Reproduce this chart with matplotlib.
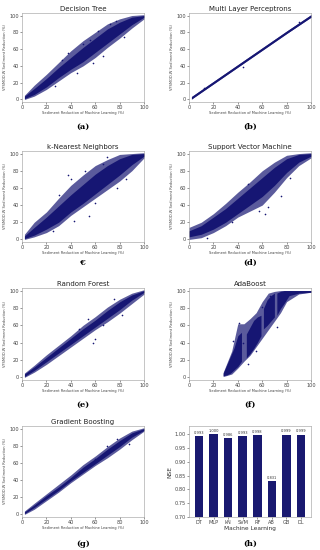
import matplotlib
matplotlib.use("Agg")
import matplotlib.pyplot as plt

# scatter panels: band edges (outer cloud and dense core)
grid_x = [2, 10, 20, 30, 40, 50, 60, 70, 80, 90, 100]

dt_out_lo = [0, 4, 12, 22, 32, 40, 50, 62, 73, 85, 96]
dt_out_hi = [5, 17, 30, 44, 58, 70, 80, 90, 96, 100, 101]
dt_core_lo = [1, 6, 15, 26, 36, 45, 56, 67, 78, 89, 98]
dt_core_hi = [4, 13, 25, 38, 50, 62, 73, 84, 92, 98, 100]
dt_pts_x = [38, 56, 62, 33, 45, 66, 72, 84, 50, 27, 77, 58]
dt_pts_y = [55, 71, 82, 47, 31, 52, 90, 74, 66, 16, 94, 44]

mlp_x = [2, 20, 40, 60, 80, 100]
mlp_lo = [0.5, 18.5, 38.5, 58.5, 78.5, 98]
mlp_hi = [3.5, 21.5, 41.5, 61.5, 81.5, 101]
mlp_pts_x = [44, 90, 12]
mlp_pts_y = [39, 92, 14]

knn_out_lo = [0, 3, 8, 16, 28, 38, 48, 58, 68, 80, 95]
knn_out_hi = [6, 20, 32, 48, 63, 75, 86, 93, 99, 100, 101]
knn_core_lo = [1, 5, 12, 20, 32, 42, 53, 64, 75, 87, 97]
knn_core_hi = [4, 14, 26, 39, 52, 64, 76, 86, 94, 99, 100]
knn_pts_x = [38, 40, 52, 55, 66, 30, 43, 60, 78, 85, 25, 70]
knn_pts_y = [75, 70, 80, 27, 88, 52, 22, 43, 60, 70, 10, 96]

svm_x = [0, 10, 20, 30, 40, 50, 60, 70, 80, 90, 100]
svm_out_lo = [0, 2, 8, 16, 26, 33, 40, 55, 72, 86, 95]
svm_out_hi = [14, 20, 30, 42, 55, 67, 80, 90, 98, 100, 101]
svm_core_lo = [3, 6, 12, 20, 30, 40, 50, 63, 78, 90, 97]
svm_core_hi = [10, 16, 26, 36, 48, 60, 72, 84, 94, 99, 100]
svm_pts_x = [57, 62, 65, 48, 15, 75, 83, 35]
svm_pts_y = [33, 30, 38, 64, 2, 50, 72, 20]

rf_out_lo = [0, 6, 15, 25, 35, 45, 55, 64, 74, 85, 96]
rf_out_hi = [5, 14, 26, 37, 48, 60, 70, 81, 90, 97, 101]
rf_core_lo = [1, 8, 18, 28, 38, 48, 58, 68, 78, 89, 98]
rf_core_hi = [4, 12, 23, 34, 45, 56, 66, 77, 87, 95, 100]
rf_pts_x = [60, 54, 58, 75, 82, 66, 47]
rf_pts_y = [44, 67, 40, 90, 72, 60, 56]

ab_out_x = [28, 35, 40, 45, 50, 55, 60, 65, 70, 75, 80, 90, 100]
ab_out_lo = [0, 3, 10, 18, 25, 35, 45, 55, 65, 75, 88, 97, 99]
ab_out_hi = [5, 30, 62, 62, 68, 75, 88, 98, 100, 101, 101, 101, 101]
ab_c1_x = [28, 31, 34, 37, 40, 43]
ab_c1_lo = [1, 2, 4, 8, 12, 18]
ab_c1_hi = [4, 14, 24, 34, 48, 52]
ab_c2_x = [47, 50, 53, 56, 59]
ab_c2_lo = [22, 27, 33, 40, 48]
ab_c2_hi = [50, 58, 66, 70, 72]
ab_c3_x = [61, 64, 67, 70]
ab_c3_lo = [56, 60, 65, 70]
ab_c3_hi = [80, 90, 95, 98]
ab_c4_x = [72, 75, 78, 82, 90, 100]
ab_c4_lo = [72, 80, 86, 95, 98, 99]
ab_c4_hi = [98, 100, 101, 101, 101, 101]
ab_pts_x = [41, 44, 55, 66, 72, 36, 60, 48]
ab_pts_y = [63, 40, 30, 95, 58, 42, 82, 15]

gb_out_lo = [0, 6, 16, 26, 37, 47, 57, 66, 76, 87, 97]
gb_out_hi = [4, 13, 24, 35, 46, 58, 68, 79, 89, 97, 101]
gb_core_lo = [1, 8, 18, 28, 39, 49, 59, 69, 79, 90, 98]
gb_core_hi = [3, 11, 22, 32, 43, 55, 65, 76, 86, 95, 100]
gb_pts_x = [88, 60, 78, 70]
gb_pts_y = [82, 65, 88, 80]

# bar panel
nse_models = ["DT", "MLP", "kN", "SVM", "RF", "AB", "GB", "DL"]
nse_values = [0.993, 1.000, 0.986, 0.993, 0.998, 0.831, 0.999, 0.999]
nse_labels = ["0.993", "1.000", "0.986", "0.993", "0.998", "0.831", "0.999", "0.999"]

navy = "#161673"
W, H = 320, 550
left_cols = [22 / W, 189 / W]
ax_w = 122 / W
rows = [(13, 102), (151, 242), (288, 380), (426, 517)]
caption_y = [127, 263, 405, 544]

plt.rcParams["font.family"] = "DejaVu Sans"
fig = plt.figure(figsize=(3.2, 5.5), dpi=100)


def make_ax(r, c):
    top, bot = rows[r]
    ax = fig.add_axes([left_cols[c], 1 - bot / H, ax_w, (bot - top) / H])
    for s in ax.spines.values():
        s.set_color("#9a9a9a")
        s.set_linewidth(0.4)
    ax.tick_params(labelsize=3.6, length=1.2, width=0.4, pad=1,
                   colors="#444444")
    return ax


def caption(c, r, text):
    x = left_cols[c] + ax_w / 2
    fig.text(x, 1 - caption_y[r] / H, text, ha="center", va="center",
             fontsize=6, family="DejaVu Serif", fontweight="bold")


def scatter_panel(ax, title, x, out_lo, out_hi, core_lo=None, core_hi=None,
                  px=(), py=()):
    ax.fill_between(x, out_lo, out_hi, color=navy, alpha=0.7, lw=0)
    if core_lo is not None:
        ax.fill_between(x, core_lo, core_hi, color=navy, lw=0)
    ax.scatter(px, py, s=1.4, color=navy, lw=0)
    ax.set_xlim(0, 100)
    ax.set_ylim(-3, 103)
    ax.set_xticks([0, 20, 40, 60, 80, 100])
    ax.set_yticks([0, 20, 40, 60, 80, 100])
    ax.set_title(title, fontsize=5, pad=1.5, color="#222222")
    ax.set_xlabel("Sediment Reduction of Machine Learning (%)", fontsize=2.6,
                  labelpad=1, color="#444444")
    ax.set_ylabel("VFSMOD-W Sediment Reduction (%)", fontsize=2.6,
                  labelpad=1.5, color="#444444")


ax = make_ax(0, 0)
scatter_panel(ax, "Decision Tree", grid_x, dt_out_lo, dt_out_hi,
              dt_core_lo, dt_core_hi, dt_pts_x, dt_pts_y)
caption(0, 0, "(a)")

ax = make_ax(0, 1)
scatter_panel(ax, "Multi Layer Perceptrons", mlp_x, mlp_lo, mlp_hi,
              mlp_lo, mlp_hi, mlp_pts_x, mlp_pts_y)
caption(1, 0, "(b)")

ax = make_ax(1, 0)
scatter_panel(ax, "k-Nearest Neighbors", grid_x, knn_out_lo, knn_out_hi,
              knn_core_lo, knn_core_hi, knn_pts_x, knn_pts_y)
caption(0, 1, "€")

ax = make_ax(1, 1)
scatter_panel(ax, "Support Vector Machine", svm_x, svm_out_lo, svm_out_hi,
              svm_core_lo, svm_core_hi, svm_pts_x, svm_pts_y)
caption(1, 1, "(d)")

ax = make_ax(2, 0)
scatter_panel(ax, "Random Forest", grid_x, rf_out_lo, rf_out_hi,
              rf_core_lo, rf_core_hi, rf_pts_x, rf_pts_y)
caption(0, 2, "(e)")

ax = make_ax(2, 1)
scatter_panel(ax, "AdaBoost", ab_out_x, ab_out_lo, ab_out_hi,
              px=ab_pts_x, py=ab_pts_y)
for cx, lo, hi in [(ab_c1_x, ab_c1_lo, ab_c1_hi), (ab_c2_x, ab_c2_lo, ab_c2_hi),
                   (ab_c3_x, ab_c3_lo, ab_c3_hi), (ab_c4_x, ab_c4_lo, ab_c4_hi)]:
    ax.fill_between(cx, lo, hi, color=navy, lw=0)
ax.set_ylim(-4, 104)
caption(1, 2, "(f)")

ax = make_ax(3, 0)
scatter_panel(ax, "Gradient Boosting", grid_x, gb_out_lo, gb_out_hi,
              gb_core_lo, gb_core_hi, gb_pts_x, gb_pts_y)
caption(0, 3, "(g)")

ax = make_ax(3, 1)
bars = ax.bar(nse_models, nse_values, width=0.6, color="#191970")
for b, lab in zip(bars, nse_labels):
    ax.text(b.get_x() + b.get_width() / 2, b.get_height() + 0.004, lab,
            ha="center", va="bottom", fontsize=2.6, color="#333333")
ax.set_ylim(0.70, 1.03)
ax.set_yticks([0.70, 0.75, 0.80, 0.85, 0.90, 0.95, 1.00])
ax.set_yticklabels(["0.70", "0.75", "0.80", "0.85", "0.90", "0.95", "1.00"])
ax.set_xlabel("Machine Learning", fontsize=4.2, labelpad=1, color="#333333")
ax.set_ylabel("NSE", fontsize=4.2, labelpad=1.5, color="#333333")
caption(1, 3, "(h)")

fig.savefig("out.png", dpi=100, facecolor="white")
